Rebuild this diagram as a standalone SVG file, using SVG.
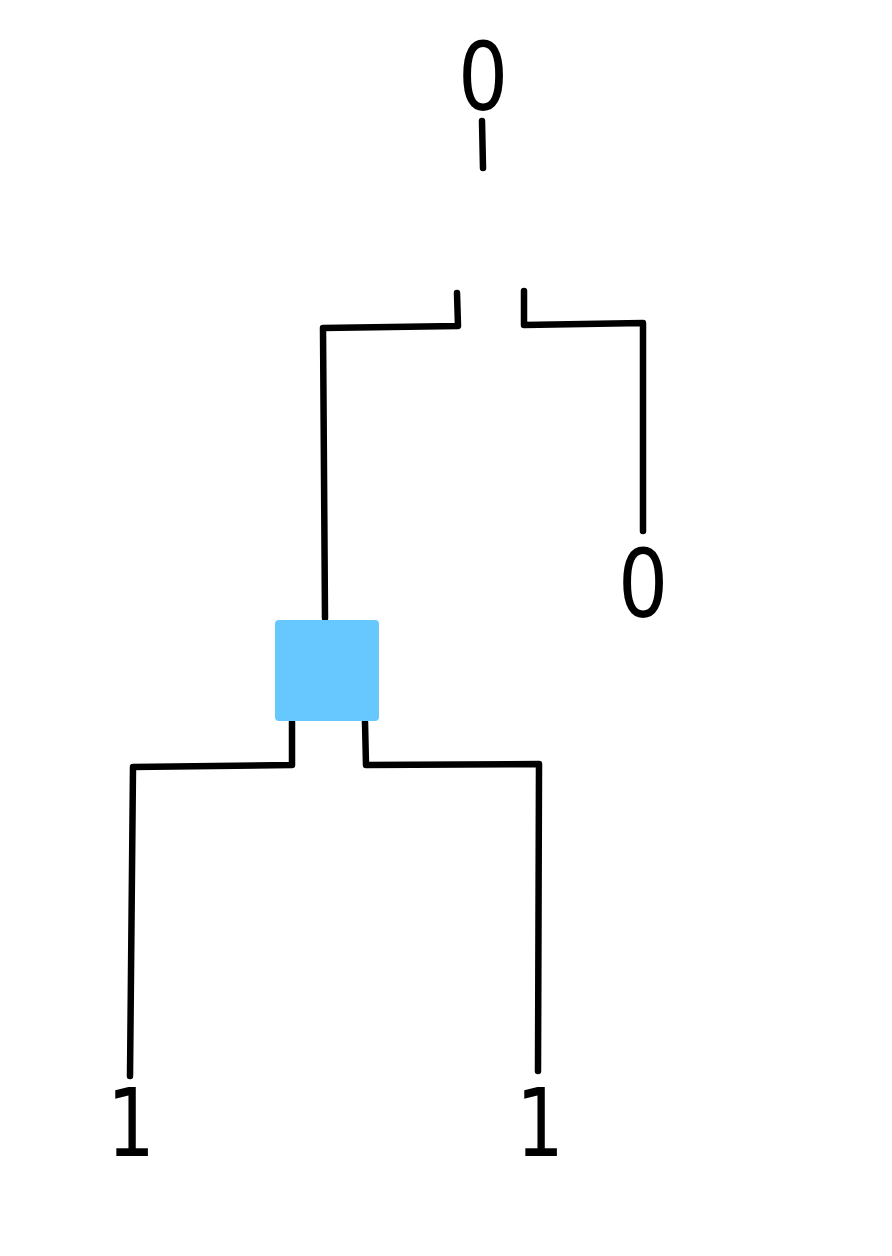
<svg xmlns="http://www.w3.org/2000/svg" width="892" height="1256" viewBox="0 0 892 1256">
<style>
.lbl{font-family:"DejaVu Sans",sans-serif;font-size:94px;fill:#000;text-anchor:middle}
.ln{fill:none;stroke:#000;stroke-width:6.5;stroke-linecap:round;stroke-linejoin:round}
</style>
<rect width="892" height="1256" fill="#fff"/>
<g id="connectors">
<path class="ln" d="M482,121 L483,168"/>
<path class="ln" d="M457,293 L458,326 L323,328 L325,618"/>
<path class="ln" d="M524,291 L524,325 L643,323 L643,531"/>
<path class="ln" d="M292,722 L292,765 L133,767 L130,1076"/>
<path class="ln" d="M365,722 L366,765 L539,764 L538,1071"/>
</g>
<g id="root"><text class="lbl" transform="translate(483,110) scale(0.84,1)">0</text></g>
<g id="leaf-right-top"><text class="lbl" transform="translate(643,617) scale(0.84,1)">0</text></g>
<g id="box"><rect x="275" y="620" width="104" height="101" rx="4" fill="#66c8ff"/></g>
<g id="leaf-left"><text class="lbl" transform="translate(131,1156) scale(0.8,1)">1</text></g>
<g id="leaf-right"><text class="lbl" transform="translate(540,1156) scale(0.8,1)">1</text></g>
</svg>
